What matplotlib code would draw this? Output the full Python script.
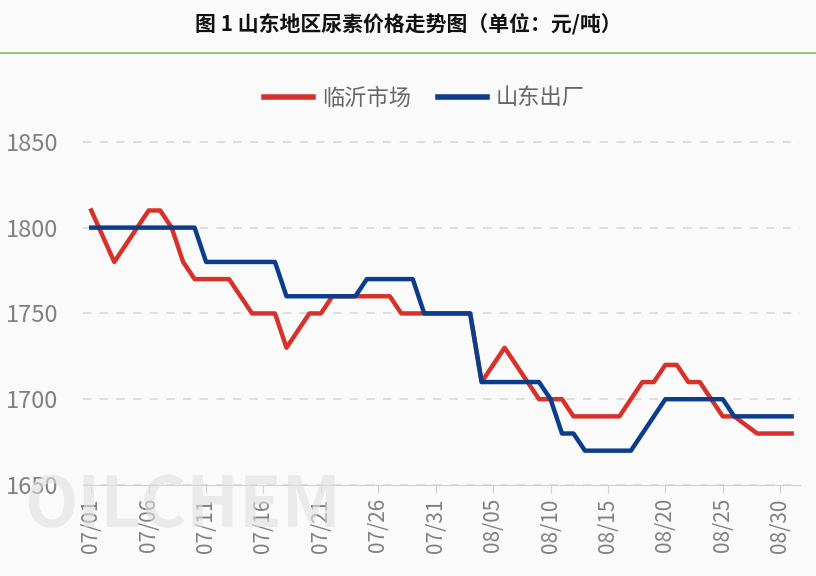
import numpy as np
import pandas as pd
import matplotlib.pyplot as plt
from matplotlib.lines import Line2D

plt.rcParams['font.family'] = ['Noto Sans CJK SC', 'DejaVu Sans']

dates = pd.date_range('2023-07-01', '2023-08-31')
linyi = [1810, 1795, 1780, 1790, 1800, 1810, 1810, 1800, 1780, 1770,
         1770, 1770, 1770, 1760, 1750, 1750, 1750, 1730, 1740, 1750,
         1750, 1760, 1760, 1760, 1760, 1760, 1760, 1750, 1750, 1750,
         1750, 1750, 1750, 1750, 1710, 1720, 1730, 1720, 1710, 1700,
         1700, 1700, 1690, 1690, 1690, 1690, 1690, 1700, 1710, 1710,
         1720, 1720, 1710, 1710, 1700, 1690, 1690, 1685, 1680, 1680,
         1680, 1680]
shandong = [1800, 1800, 1800, 1800, 1800, 1800, 1800, 1800, 1800, 1800,
            1780, 1780, 1780, 1780, 1780, 1780, 1780, 1760, 1760, 1760,
            1760, 1760, 1760, 1760, 1770, 1770, 1770, 1770, 1770, 1750,
            1750, 1750, 1750, 1750, 1710, 1710, 1710, 1710, 1710, 1710,
            1700, 1680, 1680, 1670, 1670, 1670, 1670, 1670, 1680, 1690,
            1700, 1700, 1700, 1700, 1700, 1700, 1690, 1690, 1690, 1690,
            1690, 1690]
tick_idx = list(range(0, 62, 5))
tick_labels = [dates[i].strftime('%m/%d') for i in tick_idx]

red, blue, gray = '#d7322a', '#0b3d8c', '#808080'
fig = plt.figure(figsize=(8.16, 5.76), dpi=100, facecolor='#fafafa')
ax = fig.add_axes([0.102, 0.158, 0.878, 0.70], facecolor='#fafafa')
x = np.arange(len(dates))
ax.plot(x, linyi, color=red, lw=3.2)
ax.plot(x, shandong, color=blue, lw=3.2)

ax.set_xlim(-0.7, 61.7)
ax.set_ylim(1650, 1885)
ax.set_yticks([1650, 1700, 1750, 1800, 1850])
ax.set_xticks(tick_idx)
ax.set_xticklabels(tick_labels, rotation=90)
ax.tick_params(axis='both', colors=gray, labelsize=15, length=0)
ax.tick_params(axis='y', labelsize=17, pad=56)
for lbl in ax.get_yticklabels():
    lbl.set_horizontalalignment('left')
ax.tick_params(axis='x', length=6, color='#d0d0d0')
ax.grid(axis='y', ls=(0, (5, 5)), color='#d9d9d9', lw=1.2)
for s in ['top', 'right', 'left']:
    ax.spines[s].set_visible(False)
ax.spines['bottom'].set_color('#d0d0d0')

handles = [Line2D([], [], color=red, lw=4), Line2D([], [], color=blue, lw=4)]
fig.legend(handles, ['临沂市场', '山东出厂'], loc='center', bbox_to_anchor=(0.52, 0.83),
           ncol=2, frameon=False, fontsize=16, labelcolor='#666666',
           handlelength=2.2, columnspacing=1.2, handletextpad=0.4)

fig.text(0.5, 0.958, '图 1 山东地区尿素价格走势图（单位：元/吨）', ha='center', va='center',
         fontsize=15, fontweight='bold', color='#111111')
fig.add_artist(Line2D([0, 1], [0.908, 0.908], color='#7cc24a', lw=1.2))
fig.text(0.03, 0.12, 'OILCHEM', fontsize=50, fontweight='bold', color='#e0e0e0',
         alpha=0.6, va='center', zorder=0)

fig.savefig('out.png', facecolor=fig.get_facecolor())
